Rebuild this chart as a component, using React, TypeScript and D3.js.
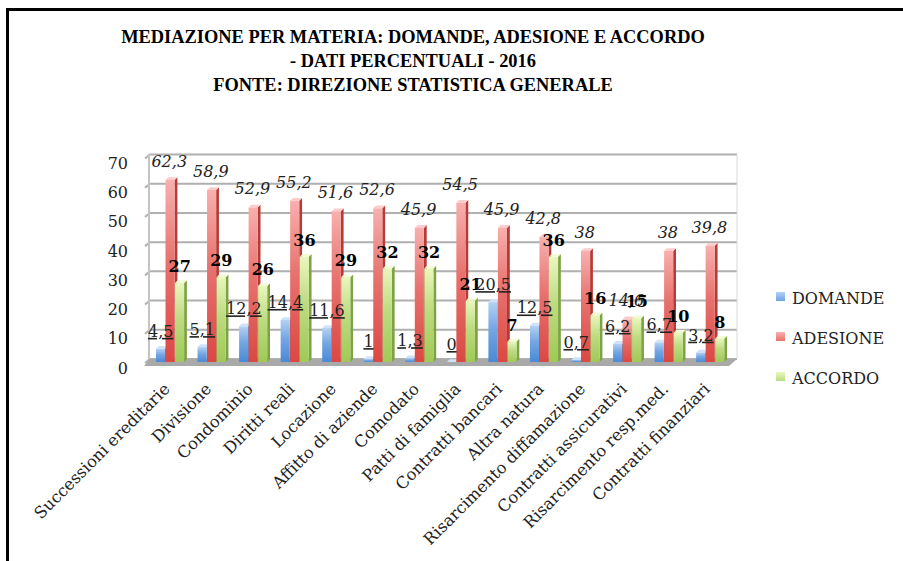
import React from "react";
import * as d3 from "d3";

const categories = [
  "Successioni ereditarie",
  "Divisione",
  "Condominio",
  "Diritti reali",
  "Locazione",
  "Affitto di aziende",
  "Comodato",
  "Patti di famiglia",
  "Contratti bancari",
  "Altra natura",
  "Risarcimento diffamazione",
  "Contratti assicurativi",
  "Risarcimento resp.med.",
  "Contratti finanziari",
];
const domande = [4.5, 5.1, 12.2, 14.4, 11.6, 1, 1.3, 0, 20.5, 12.5, 0.7, 6.2, 6.7, 3.2];
const adesione = [62.3, 58.9, 52.9, 55.2, 51.6, 52.6, 45.9, 54.5, 45.9, 42.8, 38, 14.6, 38, 39.8];
const accordo = [27, 29, 26, 36, 29, 32, 32, 21, 7, 36, 16, 15, 10, 8];
const seriesNames = ["DOMANDE", "ADESIONE", "ACCORDO"];
const yTicks = [0, 10, 20, 30, 40, 50, 60, 70];
const titleLines = [
  "MEDIAZIONE PER MATERIA: DOMANDE, ADESIONE E ACCORDO",
  "- DATI PERCENTUALI - 2016",
  "FONTE: DIREZIONE STATISTICA GENERALE",
];

const W = 903;
const H = 561;
const FONT = "'DejaVu Serif', serif";

const palette = [
  { top: "#b3d1f4", bottom: "#4a89d6", side: "#3b70b8", cap: "#cfe2f8", legend: "#6ea2e2" },
  { top: "#f8b0ae", bottom: "#dc4843", side: "#b73a36", cap: "#fbcccb", legend: "#e96f6c" },
  { top: "#e9f7bd", bottom: "#a0c957", side: "#7ea344", cap: "#f2fbd6", legend: "#b9dc80" },
];

const fmt = (v: number) => String(v).replace(".", ",");

export default function App() {
  const series = [domande, adesione, accordo];
  const x = d3.scaleBand<string>().domain(categories).range([148, 729.7]).padding(0);
  const xs = d3.scaleBand<number>().domain([0, 1, 2]).range([8, 36.5]).padding(0);
  const y = d3.scaleLinear().domain([0, 70]).range([362, 157.5]);
  const depth = 2.8;
  const sw = xs.bandwidth();
  const fw = sw - 0.4;

  const wallX0 = 150;
  const wallX1 = 737;
  const back = (v: number) => y(v) - 3;

  return (
    <svg
      width={W}
      height={H}
      viewBox={`0 0 ${W} ${H}`}
      style={{ position: "absolute", left: 0, top: 0, background: "#fff" }}
    >
      <defs>
        {palette.map((p, i) => (
          <linearGradient key={i} id={`g${i}`} x1="0" y1="0" x2="0" y2="1">
            <stop offset="0%" stopColor={p.top} />
            <stop offset="45%" stopColor={d3.interpolateRgb(p.top, p.bottom)(0.6)} />
            <stop offset="100%" stopColor={p.bottom} />
          </linearGradient>
        ))}
        {palette.map((p, i) => (
          <linearGradient key={"l" + i} id={`lg${i}`} x1="0" y1="0" x2="0" y2="1">
            <stop offset="0%" stopColor={p.top} />
            <stop offset="100%" stopColor={p.legend} />
          </linearGradient>
        ))}
      </defs>

      {/* frame */}
      <line x1={6} x2={W} y1={9.5} y2={9.5} stroke="#000" strokeWidth={3} />
      <line x1={7.5} x2={7.5} y1={8} y2={H} stroke="#000" strokeWidth={3} />

      {/* title */}
      {titleLines.map((t, i) => (
        <text
          key={i}
          x={413}
          y={43 + i * 24}
          textAnchor="middle"
          fontFamily="'Liberation Serif', serif"
          fontWeight="bold"
          fontSize={18.4}
          fill="#000"
        >
          {t}
        </text>
      ))}

      {/* gridlines on back wall */}
      {yTicks.map((t) => (
        <polyline
          key={t}
          points={`${wallX0 - 5},${back(t) + 4} ${wallX0},${back(t)} ${wallX1},${back(t)}`}
          fill="none"
          stroke="#b0b0b0"
          strokeWidth={2}
        />
      ))}
      <line x1={wallX0 - 1} x2={wallX0 - 1} y1={back(70)} y2={back(0)} stroke="#c4c4c4" strokeWidth={2} />
      <line x1={wallX1} x2={wallX1} y1={back(70)} y2={back(0)} stroke="#d8d8d8" strokeWidth={1} />

      {/* floor */}
      <polygon
        points={`${wallX0},${back(0)} ${wallX1},${back(0)} ${wallX1 - 8},${y(0) + 4} ${144},${y(0) + 4}`}
        fill="#a9a9a9"
      />

      {/* y tick labels */}
      {yTicks.map((t) => (
        <text
          key={t}
          x={128}
          y={y(t) + 6}
          textAnchor="end"
          dominantBaseline="central"
          fontFamily={FONT}
          fontSize={16}
          fill="#222"
        >
          {t}
        </text>
      ))}

      {/* bars */}
      {categories.map((c, ci) => (
        <g key={c}>
          {series.map((s, si) => {
            const v = s[ci];
            const bx = (x(c) as number) + (xs(si) as number);
            const top = y(v);
            const base = y(0);
            const p = palette[si];
            return (
              <g key={si}>
                <polygon
                  points={`${bx + fw},${top} ${bx + fw + depth},${top - depth} ${bx + fw + depth},${base - depth} ${bx + fw},${base}`}
                  fill={p.side}
                />
                <polygon
                  points={`${bx},${top} ${bx + depth},${top - depth} ${bx + fw + depth},${top - depth} ${bx + fw},${top}`}
                  fill={p.cap}
                />
                {base - top > 0.5 && (
                  <rect x={bx} y={top} width={fw} height={base - top} fill={`url(#g${si})`} />
                )}
              </g>
            );
          })}
        </g>
      ))}

      {/* data labels */}
      {categories.map((c, ci) => {
        const gx = x(c) as number;
        return (
          <g key={"lab" + c} fontFamily={FONT} fontSize={16} fill="#222">
            <text
              x={gx + (xs(0) as number) + sw / 2}
              y={y(domande[ci]) - 12}
              textAnchor="middle"
              style={{ textDecoration: "underline" }}
            >
              {fmt(domande[ci])}
            </text>
            <text
              x={gx + (xs(1) as number) + sw / 2 - 1}
              y={y(adesione[ci]) - 13}
              textAnchor="middle"
              fontStyle="italic"
            >
              {fmt(adesione[ci])}
            </text>
            <text
              x={gx + (xs(2) as number) + sw / 2}
              y={y(accordo[ci]) - 11}
              textAnchor="middle"
              fontWeight="bold"
              fill="#000"
            >
              {fmt(accordo[ci])}
            </text>
          </g>
        );
      })}

      {/* category labels */}
      {categories.map((c) => {
        const cx = (x(c) as number) + x.bandwidth() / 2 + 2;
        return (
          <text
            key={"cat" + c}
            transform={`translate(${cx},${390}) rotate(-45)`}
            textAnchor="end"
            fontFamily={FONT}
            fontSize={16.3}
            fill="#222"
          >
            {c}
          </text>
        );
      })}

      {/* legend */}
      {seriesNames.map((n, i) => (
        <g key={n} transform={`translate(776,${298 + i * 40})`}>
          <rect x={0} y={-6} width={9} height={9} fill={`url(#lg${i})`} />
          <text x={16} y={0} dominantBaseline="central" fontFamily={FONT} fontSize={16} fill="#222">
            {n}
          </text>
        </g>
      ))}
    </svg>
  );
}
